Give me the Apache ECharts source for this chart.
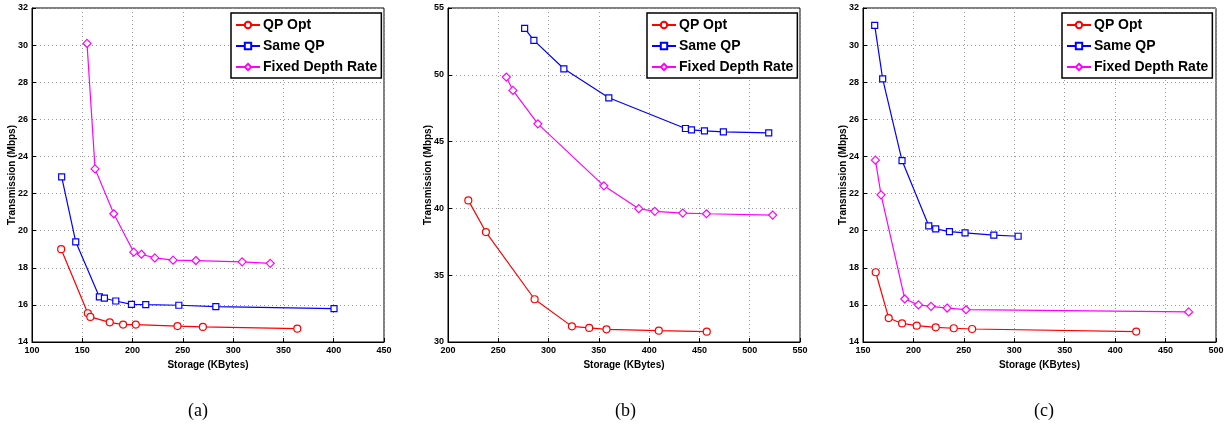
<!DOCTYPE html>
<html>
<head>
<meta charset="utf-8">
<script src="https://cdn.jsdelivr.net/npm/echarts@6/dist/echarts.min.js"></script>
<style>
html,body{margin:0;padding:0;background:#fff;}
#chart{width:1228px;height:427px;}
</style>
</head>
<body>
<div id="chart"></div>
<script>
// Panel (a)
const aQPOpt = [[129,19.0],[155.5,15.55],[158,15.35],[177.3,15.06],[190.6,14.94],[203.2,14.94],[244.7,14.86],[269.9,14.81],[363.8,14.72]];
const aSameQP = [[129.5,22.9],[143.5,19.4],[167,16.43],[172,16.36],[183.3,16.21],[198.9,16.03],[213.1,16.01],[246,15.98],[282.8,15.91],[400.3,15.8]];
const aFixed = [[154.7,30.09],[162.7,23.33],[181.3,20.91],[201.2,18.84],[208.8,18.73],[222.1,18.53],[240.3,18.41],[262.9,18.39],[309,18.32],[336.9,18.24]];
// Panel (b)
const bQPOpt = [[220.2,40.6],[237.7,38.23],[286.1,33.2],[323.2,31.17],[340.4,31.05],[357.6,30.95],[409.6,30.85],[457.3,30.77]];
const bSameQP = [[276.2,53.48],[285.4,52.58],[315.2,50.45],[359.9,48.28],[436.1,45.98],[442.1,45.88],[455,45.8],[473.8,45.73],[518.9,45.65]];
const bFixed = [[258,49.83],[264.6,48.83],[289.4,46.33],[355,41.69],[389.7,39.98],[405.6,39.78],[433.4,39.65],[457,39.6],[522.8,39.5]];
// Panel (c)
const cQPOpt = [[162.6,17.76],[175.5,15.29],[188.7,15.0],[203.3,14.88],[222.1,14.79],[240,14.74],[258.2,14.7],[420.9,14.56]];
const cSameQP = [[161.6,31.06],[169.5,28.18],[188.7,23.78],[215.2,20.26],[222.1,20.1],[235.7,19.95],[251.2,19.88],[279.7,19.76],[303.8,19.7]];
const cFixed = [[162.3,23.8],[167.9,21.93],[191.4,16.32],[205,16.0],[217.5,15.92],[233.4,15.83],[252.2,15.74],[472.9,15.62]];

const seriesNames = ['QP Opt','Same QP','Fixed Depth Rate'];
const captions = ['(a)','(b)','(c)'];
const xLabel = 'Storage (KBytes)';
const yLabel = 'Transmission (Mbps)';
const xRanges = [[100,450],[200,550],[150,500]];
const yRanges = [[14,32,2],[30,55,5],[14,32,2]];
const panelData = [[aQPOpt,aSameQP,aFixed],[bQPOpt,bSameQP,bFixed],[cQPOpt,cSameQP,cFixed]];

const colors = ['#ff0000','#0000ff','#ff00ff'];
const symbols = ['circle','rect','diamond'];
const symSizes = [7,6,8];

const grids = [
  {left:32, width:352, top:8, height:334},
  {left:448, width:352, top:8, height:334},
  {left:863, width:353, top:8, height:334}
];
const legendBoxes = [231, 647, 1062];
const captionX = [198, 625, 1044];
const yLabelX = [12, 428, 843];

const fontFam = 'Liberation Sans, Arial, sans-serif';
const chart = echarts.init(document.getElementById('chart'), null, {renderer:'canvas'});

const option = {
  animation:false,
  backgroundColor:'#ffffff',
  grid: grids.map(g => Object.assign({show:true, borderColor:'#000', borderWidth:1, backgroundColor:'transparent'}, g)),
  xAxis: xRanges.map((r,i) => ({
    type:'value', gridIndex:i, min:r[0], max:r[1], interval:50,
    name:xLabel, nameLocation:'middle', nameGap:18,
    nameTextStyle:{fontFamily:fontFam, fontWeight:'bold', fontSize:10, color:'#000'},
    axisLine:{show:true, onZero:false, lineStyle:{color:'#000', width:1}},
    axisTick:{show:true, inside:true, length:4, lineStyle:{color:'#000'}},
    axisLabel:{fontFamily:fontFam, fontWeight:'bold', fontSize:9, color:'#000', margin:4},
    splitLine:{show:true, lineStyle:{color:'#999', type:[1,3], width:1}}
  })),
  yAxis: yRanges.map((r,i) => ({
    type:'value', gridIndex:i, min:r[0], max:r[1], interval:r[2],
    axisLine:{show:true, onZero:false, lineStyle:{color:'#000', width:1}},
    axisTick:{show:true, inside:true, length:4, lineStyle:{color:'#000'}},
    axisLabel:{fontFamily:fontFam, fontWeight:'bold', fontSize:9, color:'#000', margin:4},
    splitLine:{show:true, lineStyle:{color:'#999', type:[1,3], width:1}}
  })),
  legend: legendBoxes.map((lx) => ({
    left:lx, top:13, orient:'vertical',
    data:seriesNames,
    itemWidth:24, itemHeight:8, itemGap:7,
    padding:[5,4,4,4],
    borderColor:'#000', borderWidth:1.5, backgroundColor:'#fff',
    textStyle:{fontFamily:fontFam, fontWeight:'bold', fontSize:14, color:'#000', padding:[0,0,0,-2]},
    selectedMode:false
  })),
  graphic: [],
  series: []
};

captions.forEach((c,i) => {
  option.graphic.push({
    type:'text', left:captionX[i]-10, top:402,
    style:{text:c, font:'18px "Liberation Serif", "Times New Roman", serif', fill:'#000'}
  });
  option.graphic.push({
    type:'text', x:yLabelX[i], y:175, rotation:Math.PI/2,
    style:{text:yLabel, font:'bold 10px "Liberation Sans", Arial, sans-serif', fill:'#000', align:'center', verticalAlign:'middle'}
  });
});

panelData.forEach((arr,p) => {
  arr.forEach((d,s) => {
    option.series.push({
      type:'line', name:seriesNames[s], xAxisIndex:p, yAxisIndex:p,
      data:d, symbol:symbols[s], symbolSize:symSizes[s],
      showAllSymbol:true,
      lineStyle:{color:colors[s], width:1.2},
      itemStyle:{color:'#fff', borderColor:colors[s], borderWidth:1.2},
      z:3
    });
  });
});

chart.setOption(option);
</script>
</body>
</html>
